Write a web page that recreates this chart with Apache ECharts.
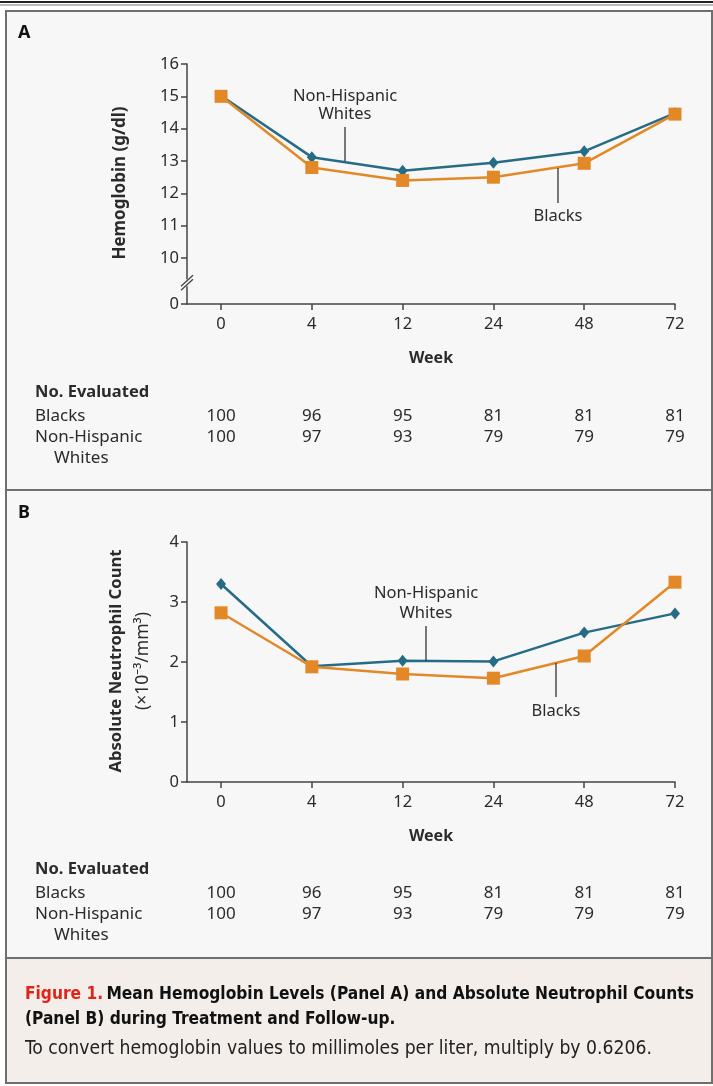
<!DOCTYPE html>
<html>
<head>
<meta charset="utf-8">
<script src="https://cdn.jsdelivr.net/npm/echarts@6/dist/echarts.min.js"></script>
<style>
  html, body { margin: 0; padding: 0; background: #fff; }
  #main { width: 713px; height: 1086px; }
</style>
</head>
<body>
<div id="main"></div>
<script>
// 数据
const weeks = ["0", "4", "12", "24", "48", "72"];
const hbBlacks = [15.0, 12.8, 12.4, 12.5, 12.93, 14.45];
const hbWhites = [15.02, 13.12, 12.7, 12.95, 13.3, 14.48];
const ancBlacks = [2.82, 1.92, 1.8, 1.73, 2.1, 3.33];
const ancWhites = [3.3, 1.93, 2.02, 2.01, 2.49, 2.81];
const nBlacks = [100, 96, 95, 81, 81, 81];
const nWhites = [100, 97, 93, 79, 79, 79];
const hbTicks = [10, 11, 12, 13, 14, 15, 16];
const ancTicks = [0, 1, 2, 3, 4];
const hbBreakMin = 8.58; // 断轴处画 "0"

const font = "'Noto Sans', sans-serif";
const capFont = "'DejaVu Sans Condensed', sans-serif";
const teal = "#266c86";
const orange = "#e38826";
const ink = "#2b2b2b";
const panelBg = "#f7f7f7";

const chart = echarts.init(document.getElementById("main"), null, { renderer: "canvas" });

const pos = weeks.map((w, i) => i);
const pts = arr => arr.map((v, i) => [pos[i], v]);

function xAxisOpt(gridIndex) {
  return {
    gridIndex: gridIndex,
    type: "value",
    min: -0.375,
    max: 5,
    splitLine: { show: false },
    axisLine: { onZero: false, lineStyle: { color: "#444", width: 1.5 } },
    axisTick: { customValues: pos, length: 6, lineStyle: { color: "#444", width: 1.5 } },
    axisLabel: {
      customValues: pos,
      formatter: v => weeks[Math.round(v)],
      color: ink, fontFamily: font, fontSize: 16.5, margin: 12
    },
    name: "Week",
    nameLocation: "middle",
    nameGap: 46,
    nameTextStyle: { color: ink, fontFamily: font, fontSize: 16, fontWeight: "bold" }
  };
}

function yAxisOpt(gridIndex, extra) {
  return Object.assign({
    gridIndex: gridIndex,
    type: "value",
    splitLine: { show: false },
    axisLine: { show: true, onZero: false, lineStyle: { color: "#444", width: 1.5 } },
    axisTick: { show: true, length: 6, lineStyle: { color: "#444", width: 1.5 } },
    axisLabel: { color: ink, fontFamily: font, fontSize: 16.5, margin: 8 }
  }, extra);
}

function lineSeries(name, data, xi, isWhite) {
  return {
    name: name,
    type: "line",
    xAxisIndex: xi,
    yAxisIndex: xi,
    data: pts(data),
    symbol: isWhite ? "diamond" : "rect",
    symbolSize: isWhite ? [10, 12] : 13,
    showSymbol: true,
    z: isWhite ? 2 : 3,
    itemStyle: { color: isWhite ? teal : orange },
    lineStyle: { color: isWhite ? teal : orange, width: 2.5 },
    animation: false
  };
}

const hbTickVals = [hbBreakMin].concat(hbTicks);

chart.setOption({
  animation: false,
  grid: [
    { left: 187, top: 64, width: 488, height: 240 },
    { left: 187, top: 542, width: 488, height: 240 }
  ],
  xAxis: [xAxisOpt(0), xAxisOpt(1)],
  yAxis: [
    yAxisOpt(0, {
      min: hbBreakMin,
      max: 16,
      axisTick: { show: true, customValues: hbTickVals, length: 6, lineStyle: { color: "#444", width: 1.5 } },
      axisLabel: {
        customValues: hbTickVals,
        formatter: v => (v < 9 ? "0" : String(v)),
        color: ink, fontFamily: font, fontSize: 16.5, margin: 8
      }
    }),
    yAxisOpt(1, { min: ancTicks[0], max: ancTicks[ancTicks.length - 1], interval: 1 })
  ],
  series: [
    lineSeries("Non-Hispanic Whites", hbWhites, 0, true),
    lineSeries("Blacks", hbBlacks, 0, false),
    lineSeries("Non-Hispanic Whites", ancWhites, 1, true),
    lineSeries("Blacks", ancBlacks, 1, false)
  ]
});

// 根据坐标轴算出表格列位置和断轴位置
const colX = pos.map(p => chart.convertToPixel({ xAxisIndex: 0 }, p));
const axisX = chart.convertToPixel({ xAxisIndex: 0 }, -0.375);
const breakY = chart.convertToPixel({ yAxisIndex: 0 }, 9.25);

function txt(x, y, text, opt, rot) {
  return {
    type: "text",
    x: x, y: y,
    z: 10,
    rotation: rot || 0,
    style: Object.assign({
      text: text,
      fill: ink,
      font: "16.5px " + font,
      textAlign: "left",
      textVerticalAlign: "middle"
    }, opt || {})
  };
}

function table(top) {
  const els = [];
  els.push(txt(35, top, "No. Evaluated", { font: "bold 16.5px " + font }));
  els.push(txt(35, top + 24, "Blacks", { font: "17px " + font }));
  els.push(txt(35, top + 45, "Non-Hispanic", { font: "17px " + font }));
  els.push(txt(54, top + 66, "Whites", { font: "17px " + font }));
  colX.forEach((x, i) => {
    els.push(txt(x, top + 24, String(nBlacks[i]), { textAlign: "center", font: "17px " + font }));
    els.push(txt(x, top + 45, String(nWhites[i]), { textAlign: "center", font: "17px " + font }));
  });
  return els;
}

function leader(x, y1, y2) {
  return { type: "line", z: 10, shape: { x1: x, y1: y1, x2: x, y2: y2 }, style: { stroke: "#333", lineWidth: 1.3 } };
}

const graphics = [
  // 顶部双线
  { type: "rect", z: -10, shape: { x: 0, y: 1, width: 713, height: 2 }, style: { fill: "#222" } },
  { type: "rect", z: -10, shape: { x: 0, y: 4.5, width: 713, height: 1 }, style: { fill: "#777" } },
  // 面板
  { type: "rect", z: -10, shape: { x: 6, y: 11, width: 706, height: 479 }, style: { fill: panelBg, stroke: "#6f6f6f", lineWidth: 2 } },
  { type: "rect", z: -10, shape: { x: 6, y: 490, width: 706, height: 468 }, style: { fill: panelBg, stroke: "#6f6f6f", lineWidth: 2 } },
  { type: "rect", z: -10, shape: { x: 6, y: 958, width: 706, height: 125 }, style: { fill: "#f3eee9", stroke: "#6f6f6f", lineWidth: 2 } },
  txt(18, 33, "A", { font: "bold 18px " + font, fill: "#111" }),
  txt(18, 513, "B", { font: "bold 18px " + font, fill: "#111" }),
  // y 轴标题
  txt(120, 183, "Hemoglobin (g/dl)", { font: "bold 17px " + font, textAlign: "center" }, Math.PI / 2),
  txt(116, 661, "Absolute Neutrophil Count", { font: "bold 16.7px " + font, textAlign: "center" }, Math.PI / 2),
  txt(143, 661, "(×10⁻³/mm³)", { font: "17.5px " + font, textAlign: "center" }, Math.PI / 2),
  // 断轴标记
  { type: "rect", z: 10, shape: { x: axisX - 3, y: breakY - 3, width: 6, height: 7 }, style: { fill: panelBg } },
  { type: "line", z: 11, shape: { x1: axisX - 6, y1: breakY + 4, x2: axisX + 6, y2: breakY - 7 }, style: { stroke: "#444", lineWidth: 1.3 } },
  { type: "line", z: 11, shape: { x1: axisX - 6, y1: breakY + 8, x2: axisX + 6, y2: breakY - 3 }, style: { stroke: "#444", lineWidth: 1.3 } },
  // 标注 A
  txt(345, 96, "Non-Hispanic", { textAlign: "center" }),
  txt(345, 114, "Whites", { textAlign: "center" }),
  leader(345, 127, 161),
  txt(558, 216, "Blacks", { textAlign: "center" }),
  leader(558, 168, 203),
  // 标注 B
  txt(426, 593, "Non-Hispanic", { textAlign: "center" }),
  txt(426, 613, "Whites", { textAlign: "center" }),
  leader(426, 626, 661),
  txt(556, 711, "Blacks", { textAlign: "center" }),
  leader(556, 663, 697),
  // 说明文字
  {
    type: "text", z: 10, x: 25, y: 995,
    style: {
      text: "{r|Figure 1.} {b|Mean Hemoglobin Levels (Panel A) and Absolute Neutrophil Counts}",
      textVerticalAlign: "middle",
      rich: {
        r: { fill: "#e2231a", font: "bold 17.2px " + capFont },
        b: { fill: "#111", font: "bold 17.2px " + capFont }
      }
    }
  },
  txt(25, 1020, "(Panel B) during Treatment and Follow-up.", { font: "bold 17.2px " + capFont, fill: "#111" }),
  txt(25, 1049, "To convert hemoglobin values to millimoles per liter, multiply by 0.6206.", { font: "19.2px " + capFont, fill: "#222" })
].concat(table(392), table(869));

chart.setOption({ graphic: graphics });
</script>
</body>
</html>
